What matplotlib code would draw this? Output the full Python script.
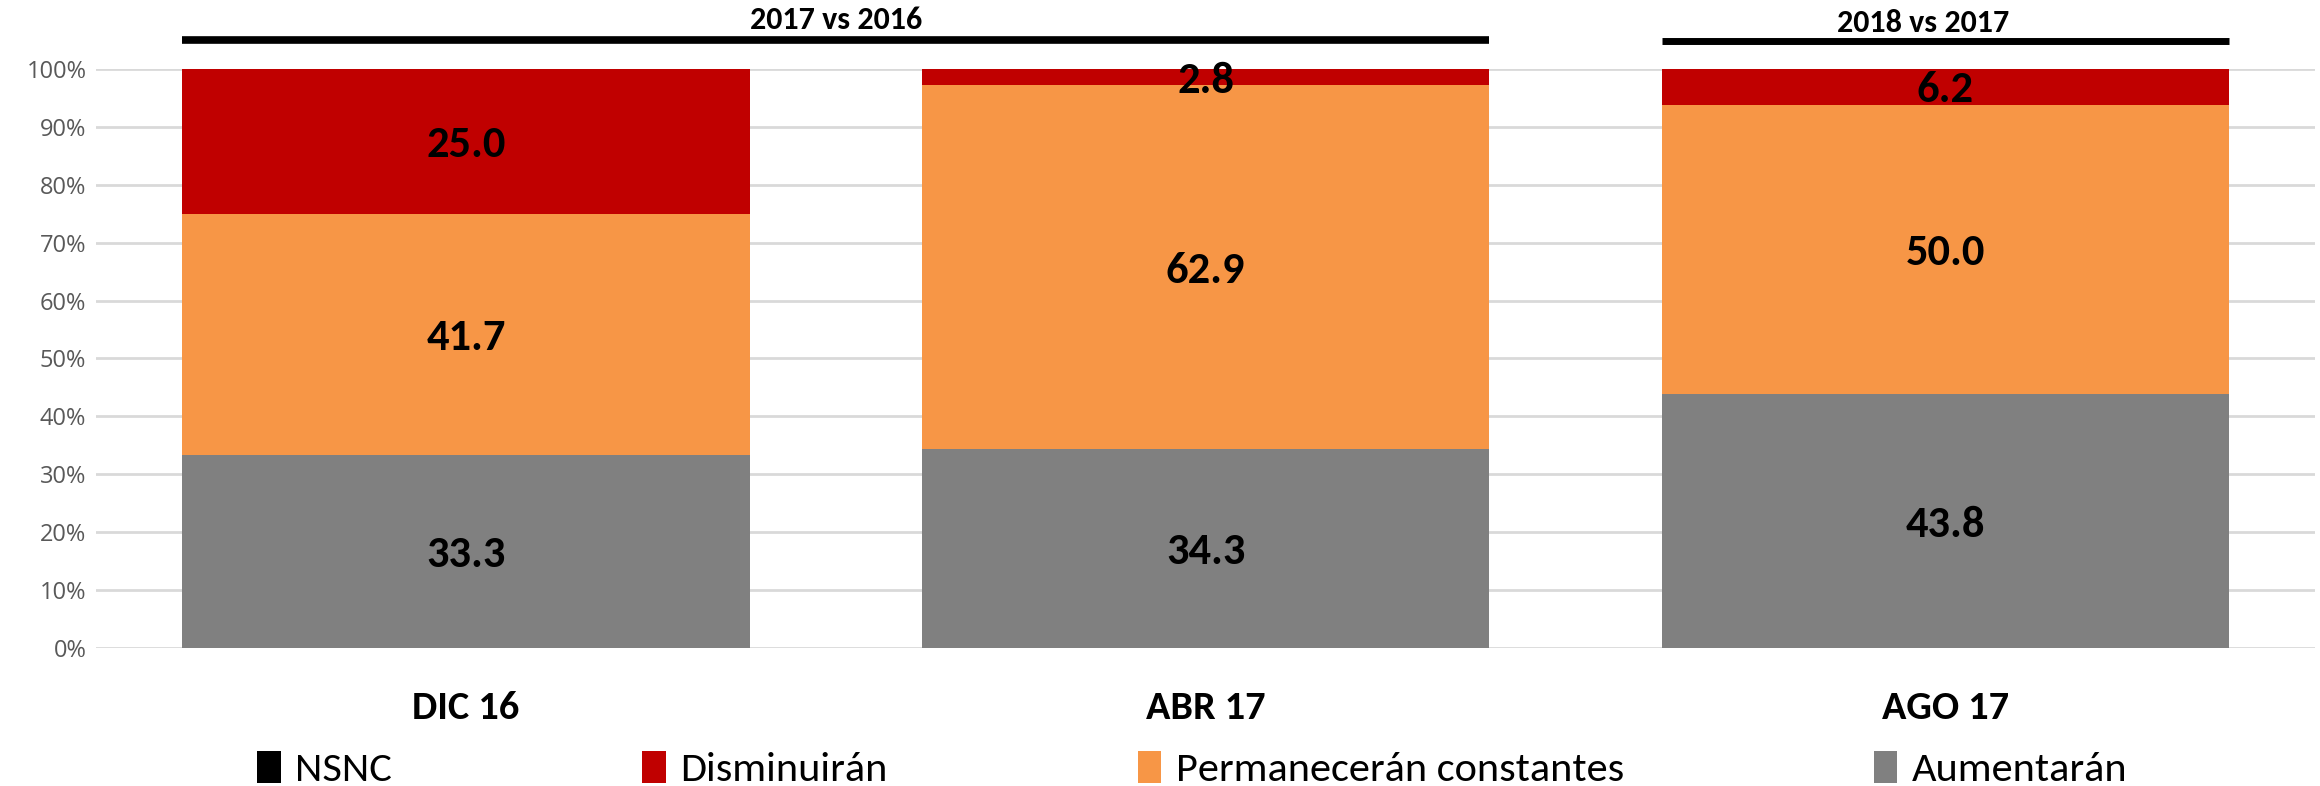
import matplotlib.pyplot as plt
import matplotlib.transforms as mtransforms
import numpy as np

categories = ['DIC 16', 'ABR 17', 'AGO 17']
aumentaran = [33.3, 34.3, 43.8]
permaneceran = [41.7, 62.9, 50.0]
disminuiran = [25.0, 2.8, 6.2]
nsnc = [0.0, 0.0, 0.0]
y_ticks = [0, 10, 20, 30, 40, 50, 60, 70, 80, 90, 100]

series = [
    ('Aumentarán', aumentaran, '#808080'),
    ('Permanecerán constantes', permaneceran, '#F79646'),
    ('Disminuirán', disminuiran, '#C00000'),
    ('NSNC', nsnc, '#000000'),
]

narrow = ['Carlito', 'Asap Condensed', 'DejaVu Sans']

fig = plt.figure(figsize=(23.2, 7.86), dpi=100)
ax = fig.add_axes([0.0414, 0.1756, 0.9566, 0.7366])

x = np.arange(len(categories))
width = 0.767
bottom = np.zeros(len(categories))
handles = {}
for name, vals, color in series:
    vals = np.array(vals)
    b = ax.bar(x, vals, width, bottom=bottom, color=color, label=name, zorder=2)
    handles[name] = b
    if name != 'NSNC':
        for xi, v, bt in zip(x, vals, bottom):
            ax.text(xi, bt + v / 2 - 0.6, f'{v:.1f}', ha='center', va='center',
                    fontsize=32, fontweight='bold', family=narrow, color='black', zorder=3)
    bottom += vals

ax.set_xlim(-0.5, 2.5)
ax.set_ylim(0, 100)
ax.set_yticks(y_ticks)
ax.set_yticklabels([f'{t}%' for t in y_ticks], fontsize=17, color='#595959', family='Open Sans')
ax.grid(axis='y', color='#D9D9D9', linewidth=2, zorder=0)
ax.set_axisbelow(True)
for s in ax.spines.values():
    s.set_visible(False)
ax.tick_params(axis='y', length=0, pad=7)
ax.tick_params(axis='x', length=0, pad=31)
ax.set_xticks(x)
ax.set_xticklabels(categories, fontsize=29, fontweight='bold', family=narrow)

# period brackets on top
trans = mtransforms.blended_transform_factory(ax.transData, ax.transAxes)
half = width / 2
ax.plot([0 - half, 1 + half], [1.050, 1.050], color='black', lw=5.5,
        transform=trans, clip_on=False, solid_capstyle='butt')
ax.text(0.5, 1.085, '2017 vs 2016', transform=trans, ha='center', va='center',
        fontsize=23, fontweight='bold', family=narrow)
ax.plot([2 - half, 2 + half], [1.048, 1.048], color='black', lw=5,
        transform=trans, clip_on=False, solid_capstyle='butt')
ax.text(1.97, 1.08, '2018 vs 2017', transform=trans, ha='center', va='center',
        fontsize=23, fontweight='bold', family=narrow)

order = ['NSNC', 'Disminuirán', 'Permanecerán constantes', 'Aumentarán']
leg = fig.legend([handles[n] for n in order], order, loc='center',
                 bbox_to_anchor=(0.514, 0.021), ncol=4, frameon=False,
                 prop={'family': narrow, 'size': 30.5},
                 handlelength=0.55, handleheight=0.8, handletextpad=0.35,
                 columnspacing=5.9)

fig.savefig('out.png', dpi=100)
